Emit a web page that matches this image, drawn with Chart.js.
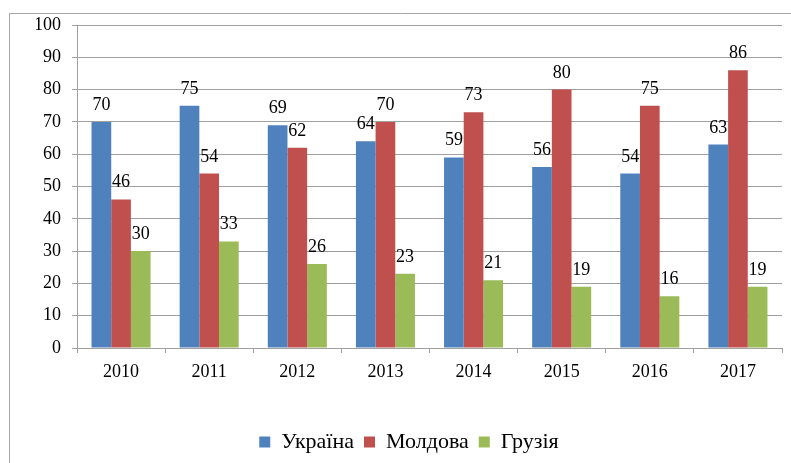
<!DOCTYPE html>
<html>
<head>
<meta charset="utf-8">
<script src="https://cdn.jsdelivr.net/npm/chart.js@4/dist/chart.umd.min.js"></script>
<style>
    html, body { margin: 0; padding: 0; background: #fff; }
    #wrap { position: relative; width: 791px; height: 463px; }
</style>
</head>
<body>
<div id="wrap"><canvas id="barChart"></canvas></div>
<script>
const years = ['2010', '2011', '2012', '2013', '2014', '2015', '2016', '2017'];
const ukraine = [70, 75, 69, 64, 59, 56, 54, 63];
const moldova = [46, 54, 62, 70, 73, 80, 75, 86];
const georgia = [30, 33, 26, 23, 21, 19, 16, 19];
const seriesNames = ['Україна', 'Молдова', 'Грузія'];

const serif = '"Liberation Serif", "Times New Roman", serif';
const lineGray = '#a0a0a0';

// frame around the chart (left + top edges only are visible)
const framePlugin = {
    id: 'frame',
    beforeDraw(chart) {
        const c = chart.ctx;
        c.save();
        c.strokeStyle = '#a6a6a6';
        c.lineWidth = 1;
        c.beginPath();
        c.moveTo(9.5, chart.height);
        c.lineTo(9.5, 13.5);
        c.lineTo(chart.width, 13.5);
        c.stroke();
        c.restore();
    }
};

// value labels above each bar
const valueLabels = {
    id: 'valueLabels',
    afterDatasetsDraw(chart) {
        const c = chart.ctx;
        c.save();
        c.font = '18px ' + serif;
        c.fillStyle = '#000';
        c.textAlign = 'center';
        c.textBaseline = 'alphabetic';
        chart.data.datasets.forEach((ds, i) => {
            chart.getDatasetMeta(i).data.forEach((bar, j) => {
                c.fillText(ds.data[j], bar.x, bar.y - 12);
            });
        });
        c.restore();
    }
};

const ctx = document.getElementById('barChart');
new Chart(ctx.getContext('2d'), {
    type: 'bar',
    data: {
        labels: years,
        datasets: [
            { label: seriesNames[0], data: ukraine, backgroundColor: '#4F81BD' },
            { label: seriesNames[1], data: moldova, backgroundColor: '#C0504D' },
            { label: seriesNames[2], data: georgia, backgroundColor: '#9BBB59' }
        ]
    },
    options: {
        responsive: true,
        maintainAspectRatio: false,
        animation: false,
        layout: {
            padding: { left: 36, right: 9, top: 25, bottom: 0 }
        },
        datasets: {
            bar: { barPercentage: 1, categoryPercentage: 0.67 }
        },
        plugins: {
            legend: {
                position: 'bottom',
                labels: {
                    color: '#000',
                    font: { family: serif, size: 22 },
                    boxWidth: 11,
                    boxHeight: 11,
                    padding: 10
                }
            },
            tooltip: { enabled: false }
        },
        scales: {
            x: {
                afterFit(scale) { scale.height = 73; },
                grid: {
                    display: true,
                    drawOnChartArea: false,
                    offset: true,
                    tickLength: 5,
                    color: lineGray
                },
                border: { color: lineGray },
                ticks: {
                    color: '#000',
                    font: { family: serif, size: 18 },
                    padding: 8
                }
            },
            y: {
                min: 0,
                max: 100,
                afterFit(scale) { scale.width = 41; },
                grid: {
                    color: lineGray,
                    tickLength: 5
                },
                border: { color: lineGray },
                ticks: {
                    stepSize: 10,
                    color: '#000',
                    font: { family: serif, size: 18 },
                    padding: 11
                }
            }
        }
    },
    plugins: [framePlugin, valueLabels]
});
</script>
</body>
</html>
